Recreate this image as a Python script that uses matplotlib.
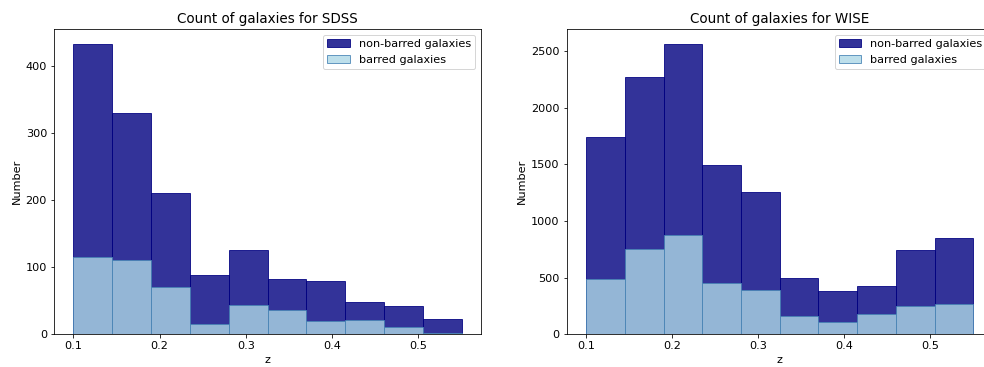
import numpy as np
import matplotlib
matplotlib.use("Agg")
import matplotlib.pyplot as plt

bin_edges = np.linspace(0.1, 0.55, 11)

sdss_nonbarred = [433, 329, 210, 88, 125, 82, 79, 48, 42, 23]
sdss_barred = [115, 110, 71, 16, 43, 36, 20, 22, 11, 2]

wise_nonbarred = [1744, 2270, 2568, 1497, 1259, 494, 385, 426, 744, 853]
wise_barred = [491, 750, 879, 450, 391, 165, 106, 176, 247, 265]

titles = ["Count of galaxies for SDSS", "Count of galaxies for WISE"]

plt.rcParams["font.size"] = 11.2
plt.rcParams["axes.titlesize"] = 13.5
plt.rcParams["axes.labelsize"] = 11.2
plt.rcParams["xtick.labelsize"] = 11.2
plt.rcParams["ytick.labelsize"] = 11.2
plt.rcParams["legend.fontsize"] = 11.2

fig = plt.figure(figsize=(984 / 72, 367 / 72), dpi=72)
ax1 = fig.add_axes([54 / 984, 1 - 334.3 / 367, 427 / 984, (334.3 - 29) / 367])
ax2 = fig.add_axes([566.7 / 984, 1 - 334.3 / 367, 426 / 984, (334.3 - 29) / 367])

centers = (bin_edges[:-1] + bin_edges[1:]) / 2
for ax, nb, b, t in [(ax1, sdss_nonbarred, sdss_barred, titles[0]),
                     (ax2, wise_nonbarred, wise_barred, titles[1])]:
    ax.hist(centers, bins=bin_edges, weights=nb, color="navy", edgecolor="navy",
            alpha=0.8, label="non-barred galaxies")
    ax.hist(centers, bins=bin_edges, weights=b, color="lightblue", edgecolor="steelblue",
            alpha=0.8, label="barred galaxies")
    ax.set_title(t)
    ax.set_xlabel("z")
    ax.set_ylabel("Number")
    ax.legend(loc="upper right")

fig.savefig("out.png", dpi=72)
